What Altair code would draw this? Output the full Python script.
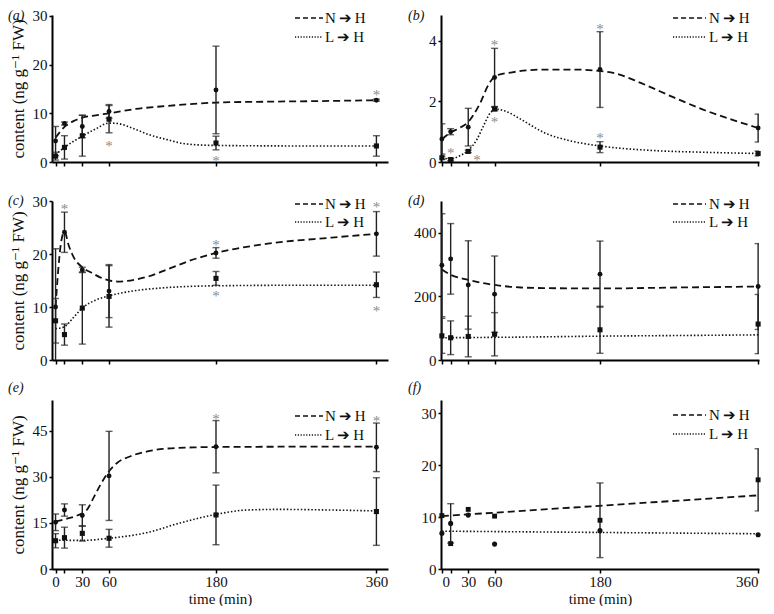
import altair as alt
import pandas as pd

FONT = "Liberation Serif, Times New Roman, DejaVu Serif, serif"
TIMES = [0, 10, 30, 60, 180, 360]
YTITLE = "content (ng g\u207b\u00b9 FW)"
N_LAB = "N\u2009\u2794\u2009H"
L_LAB = "L\u2009\u2794\u2009H"

# ---------------- panel (a) ----------------
a_N = [4.3, 7.9, 7.3, 10.4, 14.8, 12.7]
a_N_err = [3.0, 0.3, 2.3, 1.4, 9.0, 0.2]
a_L = [1.2, 3.0, 5.4, 8.8, 3.9, 3.3]
a_L_err = [0.8, 2.4, 4.2, 2.8, 1.4, 2.1]
a_N_fit_t = [0, 10, 20, 30, 45, 60, 90, 124, 180, 240, 290, 360]
a_N_fit_y = [5.0, 7.2, 8.4, 9.1, 9.6, 10.0, 10.9, 11.5, 12.2, 12.4, 12.5, 12.7]
a_L_fit_t = [0, 10, 30, 45, 60, 70, 87, 105, 125, 147, 180, 270, 360]
a_L_fit_y = [1.5, 3.0, 5.3, 6.8, 8.0, 7.9, 6.9, 5.6, 4.6, 3.7, 3.4, 3.3, 3.3]
a_star_t = [60, 180, 360]
a_star_y = [4.0, 0.8, 14.3]

# ---------------- panel (b) ----------------
b_N = [0.76, 1.0, 1.15, 2.79, 3.05, 1.12]
b_N_err = [0.5, 0.1, 0.62, 0.96, 1.25, 0.46]
b_L = [0.14, 0.08, 0.35, 1.75, 0.49, 0.28]
b_L_err = [0.05, 0.04, 0.04, 0.06, 0.18, 0.08]
b_N_fit_t = [0, 10, 20, 30, 43, 54, 62, 80, 117, 150, 180, 198, 227, 264, 300, 330, 360]
b_N_fit_y = [0.75, 0.97, 1.12, 1.32, 1.91, 2.6, 2.85, 2.96, 3.05, 3.05, 3.0, 2.92, 2.6, 2.13, 1.7, 1.4, 1.12]
b_L_fit_t = [0, 10, 20, 30, 40, 47, 56, 63, 72, 91, 117, 146, 180, 240, 300, 360]
b_L_fit_y = [0.13, 0.1, 0.2, 0.38, 0.75, 1.17, 1.65, 1.74, 1.68, 1.39, 0.96, 0.70, 0.53, 0.38, 0.32, 0.28]
b_star_t = [10, 40, 60, 60, 180, 180]
b_star_y = [0.38, 0.17, 3.95, 1.43, 4.48, 0.88]

# ---------------- panel (c) ----------------
c_N = [10.0, 24.1, 17.0, 13.0, 20.2, 23.8]
c_N_err = [11.0, 3.8, 0.5, 5.0, 1.0, 4.2]
c_L = [7.4, 4.8, 9.8, 12.0, 15.4, 14.2]
c_L_err = [4.2, 2.0, 6.8, 5.8, 1.3, 2.4]
c_N_fit_t = [0, 3, 6, 10, 15, 20, 30, 40, 50, 60, 70, 90, 105, 124, 150, 180, 236, 310, 360]
c_N_fit_y = [10.0, 17.0, 22.0, 24.2, 21.5, 19.5, 17.5, 16.5, 15.6, 15.0, 14.8, 15.2, 15.8, 17.0, 18.7, 20.2, 21.9, 23.1, 23.8]
c_L_fit_t = [0, 10, 20, 30, 45, 60, 90, 120, 180, 270, 360]
c_L_fit_y = [5.9, 6.3, 8.0, 9.8, 11.3, 12.1, 13.1, 13.6, 14.0, 14.1, 14.1]
c_star_t = [10, 180, 180, 360, 360]
c_star_y = [29.1, 22.2, 12.7, 29.4, 9.9]

# ---------------- panel (d) ----------------
d_N = [298, 318, 236, 207, 270, 231]
d_N_err = [162, 111, 139, 120, 104, 135]
d_L = [76, 70, 74, 81, 95, 113]
d_L_err = [55, 53, 64, 68, 74, 93]
d_N_fit_t = [0, 10, 30, 60, 90, 120, 180, 270, 360]
d_N_fit_y = [285, 268, 252, 236, 228, 226, 225, 228, 231]
d_L_fit_t = [0, 90, 180, 270, 360]
d_L_fit_y = [70, 72, 75, 77, 79]
d_star_t = []
d_star_y = []

# ---------------- panel (e) ----------------
e_N = [15.2, 19.2, 17.4, 30.3, 39.8, 39.6]
e_N_err = [2.7, 2.0, 3.5, 14.5, 8.5, 7.9]
e_L = [9.2, 10.2, 11.6, 10.0, 17.6, 18.7]
e_L_err = [2.3, 3.4, 2.5, 2.9, 9.7, 11.0]
e_N_fit_t = [0, 10, 25, 35, 43, 50, 58, 69, 84, 102, 121, 158, 180, 270, 360]
e_N_fit_y = [15.5, 16.2, 17.5, 19.2, 23.4, 27.2, 31.0, 34.5, 36.7, 38.2, 39.1, 39.6, 39.7, 39.8, 39.8]
e_L_fit_t = [0, 30, 60, 102, 140, 177, 215, 252, 308, 360]
e_L_fit_y = [9.4, 9.3, 10.0, 11.8, 15.0, 17.6, 19.2, 19.4, 19.2, 18.9]
e_star_t = [180, 360]
e_star_y = [49.9, 49.3]

# ---------------- panel (f) ----------------
f_N = [10.3, 4.9, 11.5, 10.2, 9.4, 17.2]
f_N_err = [0, 0, 0, 0, 7.2, 6.0]
f_L = [6.9, 8.8, 10.4, 4.8, 7.4, 6.6]
f_L_err = [0, 3.8, 0, 0, 0, 0]
f_N_fit_t = [0, 360]
f_N_fit_y = [10.2, 14.2]
f_L_fit_t = [0, 360]
f_L_fit_y = [7.3, 6.8]
f_star_t = []
f_star_y = []

LEFT_W, RIGHT_W = 336, 318
LEFT_XDOM, RIGHT_XDOM = [-4, 373], [-1, 361]
H1, H2, H3 = 147, 159, 169


def panel(letter, N, Ne, L, Le, Nft, Nfy, Lft, Lfy, st, sy, ydom, yticks,
          left, bottom, H, leg_y, lab_y, n_shape="circle", l_shape="square"):
    W = LEFT_W if left else RIGHT_W
    xs = alt.Scale(domain=LEFT_XDOM if left else RIGHT_XDOM, nice=False, zero=False, padding=0)
    ys = alt.Scale(domain=ydom, nice=False, zero=False, padding=0)
    if bottom:
        xax = alt.Axis(values=TIMES, labelExpr="datum.value == 10 ? '' : datum.label",
                       title="time (min)")
    else:
        xax = alt.Axis(values=TIMES, labels=False, title=None)
    yax = alt.Axis(values=yticks, title=YTITLE if left else None)

    def X(f="t"):
        return alt.X(f + ":Q", scale=xs, axis=xax)

    def Y(f="v"):
        return alt.Y(f + ":Q", scale=ys, axis=yax)

    pts = pd.DataFrame({"t": TIMES + TIMES, "v": N + L, "e": Ne + Le,
                        "s": ["N"] * 6 + ["L"] * 6})
    base = alt.Chart(pts)
    errs = base.transform_filter("datum.e > 0").transform_calculate(
        lo="datum.v - datum.e", hi="datum.v + datum.e")
    rules = errs.mark_rule(clip=True, color="#222", strokeWidth=1.4).encode(
        x=X(), y=Y("lo"), y2="hi:Q")
    caps = errs.transform_fold(["lo", "hi"], as_=["k", "cv"]).mark_tick(
        orient="horizontal", size=7, thickness=1.4, color="#222", clip=True
    ).encode(x=X(), y=Y("cv"))
    fitN = alt.Chart(pd.DataFrame({"t": Nft, "v": Nfy})).mark_line(
        color="#111", strokeDash=[7, 4], strokeWidth=1.8, interpolate="monotone"
    ).encode(x=X(), y=Y())
    fitL = alt.Chart(pd.DataFrame({"t": Lft, "v": Lfy})).mark_line(
        color="#111", strokeDash=[1.5, 2], strokeWidth=1.6, interpolate="monotone"
    ).encode(x=X(), y=Y())
    ptN = base.transform_filter("datum.s == 'N'").mark_point(
        filled=True, shape=n_shape, size=24, color="#111", opacity=1
    ).encode(x=X(), y=Y())
    ptL = base.transform_filter("datum.s == 'L'").mark_point(
        filled=True, shape=l_shape, size=26, color="#111", opacity=1
    ).encode(x=X(), y=Y())
    layers = [fitN, fitL, rules, caps, ptN, ptL]
    if st:
        stars = alt.Chart(pd.DataFrame({"t": st, "v": sy})).mark_text(
            text="*", color="#8c8c8c", fontSize=15, baseline="alphabetic", dy=8, font=FONT
        ).encode(x=X(), y=Y())
        layers.append(stars)

    # legend (top right of each panel)
    if left:
        sx0, sx1, tx = W - 93, W - 65, W - 63
    else:
        sx0, sx1, tx = W - 86, W - 53, W - 50
    ldf1 = pd.DataFrame({"lab": [N_LAB]})
    ldf2 = pd.DataFrame({"lab": [L_LAB]})
    layers += [
        alt.Chart(ldf1).mark_rule(color="#111", strokeDash=[5, 3], strokeWidth=1.3).encode(
            x=alt.value(sx0), x2=alt.value(sx1), y=alt.value(leg_y[0])),
        alt.Chart(ldf1).mark_text(align="left", baseline="middle", fontSize=15, font=FONT,
                                  color="#111").encode(
            x=alt.value(tx), y=alt.value(leg_y[0]), text="lab:N"),
        alt.Chart(ldf2).mark_rule(color="#111", strokeDash=[1.2, 1.6], strokeWidth=1.3).encode(
            x=alt.value(sx0), x2=alt.value(sx1), y=alt.value(leg_y[1])),
        alt.Chart(ldf2).mark_text(align="left", baseline="middle", fontSize=15, font=FONT,
                                  color="#111").encode(
            x=alt.value(tx), y=alt.value(leg_y[1]), text="lab:N"),
    ]
    # panel letter
    layers.append(
        alt.Chart(pd.DataFrame({"lab": ["(" + letter + ")"]})).mark_text(
            align="left", baseline="middle", fontSize=14, fontStyle="italic", font=FONT,
            color="#111"
        ).encode(x=alt.value(-44 if left else -33), y=alt.value(lab_y), text="lab:N")
    )
    return alt.layer(*layers).properties(width=W, height=H)


pa = panel("a", a_N, a_N_err, a_L, a_L_err, a_N_fit_t, a_N_fit_y, a_L_fit_t, a_L_fit_y,
           a_star_t, a_star_y, [0, 30.2], [0, 10, 20, 30], True, False, H1, (3, 22), 1)
pb = panel("b", b_N, b_N_err, b_L, b_L_err, b_N_fit_t, b_N_fit_y, b_L_fit_t, b_L_fit_y,
           b_star_t, b_star_y, [0, 4.85], [0, 2, 4], False, False, H1, (3, 22), 1)
pc = panel("c", c_N, c_N_err, c_L, c_L_err, c_N_fit_t, c_N_fit_y, c_L_fit_t, c_L_fit_y,
           c_star_t, c_star_y, [0, 30], [0, 10, 20, 30], True, False, H2, (3, 21), 0)
pd_ = panel("d", d_N, d_N_err, d_L, d_L_err, d_N_fit_t, d_N_fit_y, d_L_fit_t, d_L_fit_y,
            d_star_t, d_star_y, [0, 500], [0, 200, 400], False, False, H2, (3, 21), 0)
pe = panel("e", e_N, e_N_err, e_L, e_L_err, e_N_fit_t, e_N_fit_y, e_L_fit_t, e_L_fit_y,
           e_star_t, e_star_y, [0, 55], [0, 15, 30, 45], True, True, H3, (16, 35), -12)
pf = panel("f", f_N, f_N_err, f_L, f_L_err, f_N_fit_t, f_N_fit_y, f_L_fit_t, f_L_fit_y,
           f_star_t, f_star_y, [0, 32.6], [0, 10, 20, 30], False, True, H3, (15, 34), -12,
           n_shape="square", l_shape="circle")

row1 = alt.hconcat(pa, pb, spacing=20)
row2 = alt.hconcat(pc, pd_, spacing=20)
row3 = alt.hconcat(pe, pf, spacing=20)

chart = alt.vconcat(
    row1, alt.vconcat(row2, row3, spacing=13), spacing=24
).properties(padding=0).configure_axis(
    grid=False, domainColor="black", domainWidth=2, tickColor="black", tickWidth=1.5,
    labelFont=FONT, labelFontSize=15, labelColor="#111", titleFont=FONT, titleFontSize=15,
    titleFontWeight="normal", titleColor="#111",
).configure_axisY(tickSize=3, labelPadding=2, titlePadding=5, titleFontSize=17).configure_axisX(
    tickSize=4, labelPadding=1, titlePadding=2
).configure_view(strokeWidth=0)

chart.save("out.html", embed_options={"renderer": "svg", "actions": False})
